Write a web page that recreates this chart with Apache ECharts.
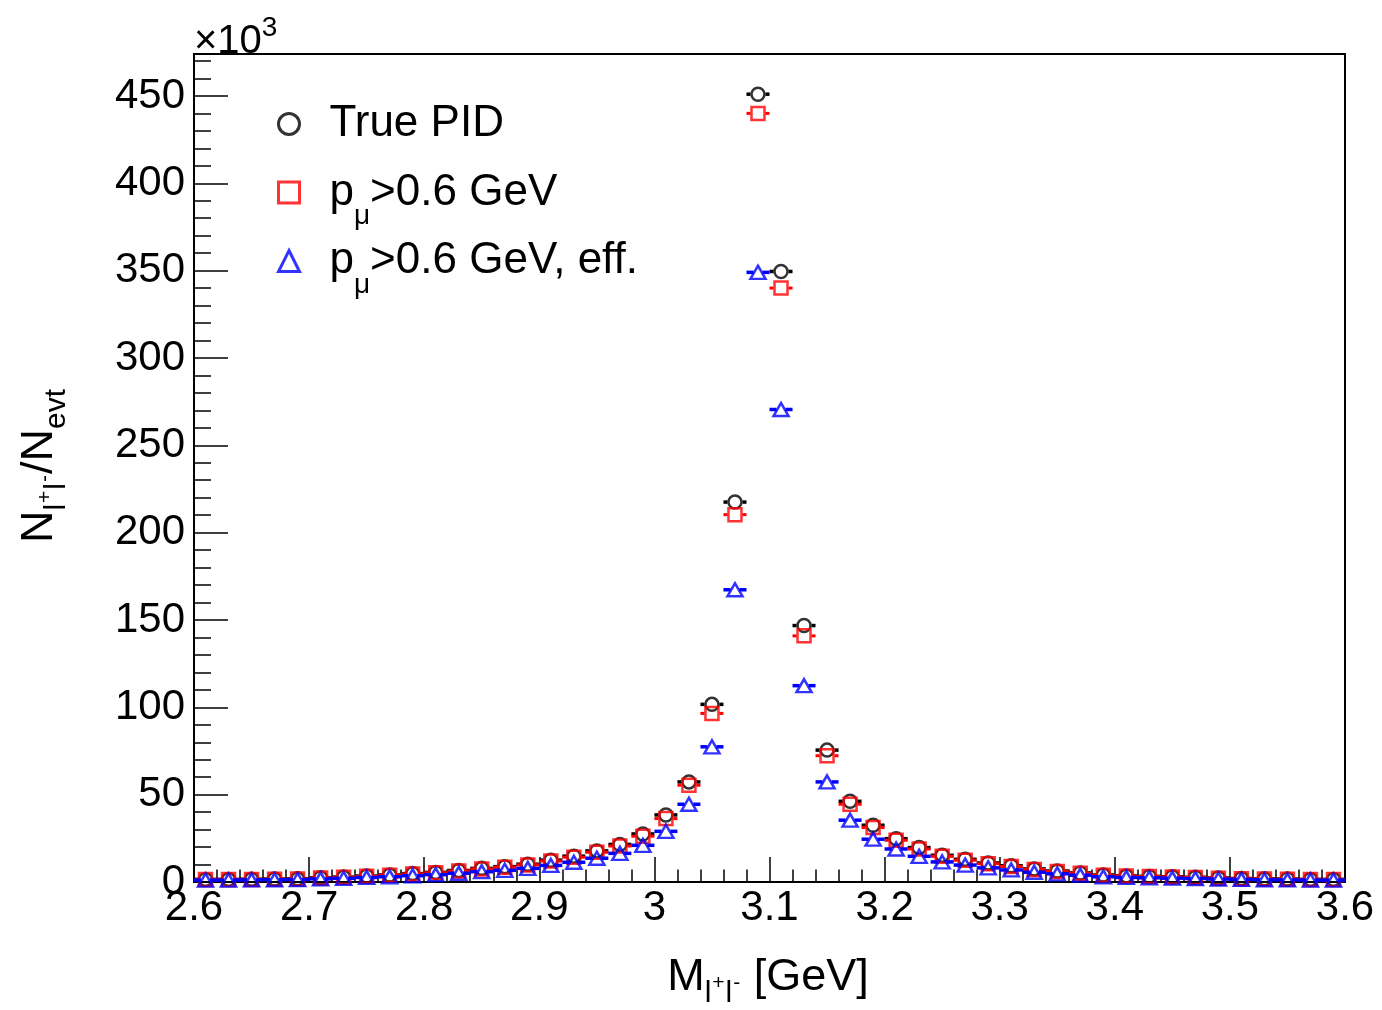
<!DOCTYPE html>
<html><head><meta charset="utf-8">
<script src="https://cdn.jsdelivr.net/npm/echarts@6/dist/echarts.min.js"></script>
<style>html,body{margin:0;padding:0;background:#fff}#c{width:1382px;height:1010px}</style>
</head><body><div id="c"></div>
<script>
// ---- data (values in units of 10^3) ----
const binCenters = [2.61,2.63,2.65,2.67,2.69,2.71,2.73,2.75,2.77,2.79,
                    2.81,2.83,2.85,2.87,2.89,2.91,2.93,2.95,2.97,2.99,
                    3.01,3.03,3.05,3.07,3.09,3.11,3.13,3.15,3.17,3.19,
                    3.21,3.23,3.25,3.27,3.29,3.31,3.33,3.35,3.37,3.39,
                    3.41,3.43,3.45,3.47,3.49,3.51,3.53,3.55,3.57,3.59];
const binWidth = 0.02;
const truePID = [1.5,1.5,1.6,1.7,1.8,2.4,2.8,3.4,4.0,4.8,
                 5.5,6.6,7.8,8.8,10.2,12.5,14.8,17.8,21.5,27.5,
                 38.4,57.3,101.7,217.5,451,349.5,146.8,75.5,46.2,32.5,
                 24.8,19.7,15.3,13.0,10.9,9.3,7.5,6.3,5.2,4.0,
                 3.5,3.2,3.0,2.7,2.3,2.0,1.8,1.7,1.5,1.5];
const pmuCut = [1.4,1.4,1.5,1.6,1.7,2.3,2.7,3.3,3.8,4.6,
                5.3,6.3,7.5,8.5,9.8,12.0,14.2,17.0,20.6,26.2,
                36.3,55.4,96.5,210.3,440,340,140.9,72.3,44.5,31.2,
                23.9,18.9,14.7,12.5,10.5,8.9,7.2,6.0,5.0,3.8,
                3.4,3.1,2.9,2.6,2.2,1.9,1.7,1.6,1.4,1.4];
const pmuCutEff = [1.1,1.1,1.2,1.3,1.4,1.8,2.1,2.6,3.0,3.6,
                   4.2,5.0,5.9,6.7,7.8,9.5,11.3,13.6,16.4,21.0,
                   29.0,44.5,77.4,167.3,349,270.5,112.4,57.3,35.4,24.5,
                   18.9,14.7,11.5,9.7,8.1,6.9,5.6,4.7,3.9,3.0,
                   2.6,2.4,2.2,2.0,1.7,1.5,1.3,1.2,1.1,1.1];
const seriesNames = ['True PID', 'p_mu>0.6 GeV', 'p_mu>0.6 GeV, eff.'];
const yMajorTicks = [0,50,100,150,200,250,300,350,400,450];
const xMin = 2.6, xMax = 3.6, xStep = 0.1;
const yMin = 0, yMax = 474, yStep = 50, yMinorStep = 10;

// ---- chart ----
const FONT = "'Liberation Sans', Arial, Helvetica, sans-serif";
const yMinor = [];
for (let v = yMin; v < yMax; v += yMinorStep) { if (v % yStep !== 0) yMinor.push(v); }

const chart = echarts.init(document.getElementById('c'), null, {renderer: 'canvas'});

function pairs(vals) { return binCenters.map((x, i) => [x, vals[i]]); }

function errSeries(name, vals, color, lw, gap, z) {
  return {
    type: 'custom', name: name, data: pairs(vals), z: z, silent: true, animation: false,
    encode: {x: 0, y: 1},
    renderItem(params, api) {
      const x = api.value(0), y = api.value(1);
      const c = api.coord([x, y]);
      const l = api.coord([x - binWidth / 2, y]);
      const r = api.coord([x + binWidth / 2, y]);
      return {type: 'group', children: [
        {type: 'line', shape: {x1: l[0], y1: c[1], x2: c[0] - gap, y2: c[1]}, style: {stroke: color, lineWidth: lw}},
        {type: 'line', shape: {x1: c[0] + gap, y1: c[1], x2: r[0], y2: c[1]}, style: {stroke: color, lineWidth: lw}}
      ]};
    }
  };
}
function markSeries(name, vals, symbol, size, color, z) {
  return {
    type: 'scatter', name: name, data: pairs(vals), symbol: symbol, symbolSize: size, z: z,
    itemStyle: {color: 'rgba(0,0,0,0)', borderColor: color, borderWidth: 2.5},
    emphasis: {disabled: true}, silent: true, animation: false
  };
}

const legendRich = {
  mu: {fontFamily: FONT, fontSize: 28, color: '#000', lineHeight: 20, padding: [48, 0, 0, 0]},
  t: {fontFamily: FONT, fontSize: 44, color: '#000', lineHeight: 48}
};

const option = {
  backgroundColor: '#fff',
  animation: false,
  grid: {left: 194, right: 37, top: 54, bottom: 128, show: true, borderColor: '#000', borderWidth: 2, backgroundColor: 'rgba(0,0,0,0)'},
  xAxis: {
    type: 'value', min: xMin, max: xMax, interval: xStep,
    axisLine: {show: true, onZero: false, lineStyle: {color: '#000', width: 2}},
    axisTick: {show: true, inside: true, length: 25, lineStyle: {color: '#000', width: 1.5}},
    minorTick: {show: true, splitNumber: 5, length: 12.5, lineStyle: {color: '#000', width: 1.5}},
    axisLabel: {fontFamily: FONT, fontSize: 42, color: '#000', margin: 5, showMinLabel: true, showMaxLabel: true},
    splitLine: {show: false}, minorSplitLine: {show: false}
  },
  yAxis: [
    {
      type: 'value', min: yMin, max: yMax, position: 'left',
      axisLine: {show: true, onZero: false, lineStyle: {color: '#000', width: 2}},
      axisTick: {show: true, inside: true, length: 34, customValues: yMajorTicks, lineStyle: {color: '#000', width: 1.5}},
      axisLabel: {customValues: yMajorTicks, fontFamily: FONT, fontSize: 42, color: '#000', margin: 9},
      splitLine: {show: false}
    },
    {
      type: 'value', min: yMin, max: yMax, position: 'left', offset: 0,
      axisLine: {show: false},
      axisTick: {show: true, inside: true, length: 17, customValues: yMinor, lineStyle: {color: '#000', width: 1.5}},
      axisLabel: {show: false},
      splitLine: {show: false}
    }
  ],
  legend: {
    show: true, orient: 'vertical', left: 277, top: 86, padding: 0, itemGap: -7.5,
    itemWidth: 21, itemHeight: 21, selectedMode: false,
    data: [
      {name: seriesNames[0], icon: 'circle', itemStyle: {color: 'rgba(0,0,0,0)', borderColor: '#000', borderWidth: 3}},
      {name: seriesNames[1], icon: 'rect', itemStyle: {color: 'rgba(0,0,0,0)', borderColor: '#ff0000', borderWidth: 3}},
      {name: seriesNames[2], icon: 'triangle', itemStyle: {color: 'rgba(0,0,0,0)', borderColor: '#0000ff', borderWidth: 3}}
    ],
    formatter: function (name) {
      if (name === seriesNames[0]) return '{t|True PID}{mu| }';
      if (name === seriesNames[1]) return '{t|p}{mu|μ}{t|>0.6 GeV}';
      return '{t|p}{mu|μ}{t|>0.6 GeV, eff.}';
    },
    textStyle: {fontFamily: FONT, fontSize: 44, color: '#000', lineHeight: 48, padding: [0, 0, 0, 25], rich: legendRich}
  },
  graphic: [
    {
      type: 'text', left: 194, top: 14, silent: true,
      style: {
        text: '{a|×10}{s|3}', fill: '#000',
        rich: {
          a: {fontFamily: FONT, fontSize: 40, lineHeight: 44, fill: '#000'},
          s: {fontFamily: FONT, fontSize: 28, lineHeight: 20, padding: [0, 0, 28, 0], fill: '#000'}
        }
      }
    },
    {
      type: 'text', x: 768, y: 978, silent: true,
      style: {
        text: '{m|M}{sub|l}{sup|+}{sub|l}{sup|-}{m| [GeV]}', fill: '#000', align: 'center', verticalAlign: 'middle',
        rich: {
          m: {fontFamily: FONT, fontSize: 45, lineHeight: 46, fill: '#000'},
          sub: {fontFamily: FONT, fontSize: 30, lineHeight: 20, padding: [32, 0, 0, 0], fill: '#000'},
          sup: {fontFamily: FONT, fontSize: 21, lineHeight: 10, padding: [10, 1, 0, 1], fill: '#000'}
        }
      }
    },
    {
      type: 'text', x: 40, y: 466, rotation: Math.PI / 2, silent: true,
      style: {
        text: '{m|N}{sub|l}{sup|+}{sub|l}{sup|-}{m|/N}{sub|evt}', fill: '#000', align: 'center', verticalAlign: 'middle',
        rich: {
          m: {fontFamily: FONT, fontSize: 45, lineHeight: 46, fill: '#000'},
          sub: {fontFamily: FONT, fontSize: 30, lineHeight: 20, padding: [34, 0, 0, 0], fill: '#000'},
          sup: {fontFamily: FONT, fontSize: 21, lineHeight: 10, padding: [10, 1, 0, 1], fill: '#000'}
        }
      }
    }
  ],
  series: [
    errSeries('err0', truePID, '#000', 3.5, 7.5, 2),
    markSeries(seriesNames[0], truePID, 'circle', 13, '#000', 3),
    errSeries('err1', pmuCut, '#ff0000', 3, 7.5, 4),
    markSeries(seriesNames[1], pmuCut, 'rect', 13, '#ff0000', 5),
    errSeries('err2', pmuCutEff, '#0000ff', 3.5, 4.5, 6),
    markSeries(seriesNames[2], pmuCutEff, 'triangle', [15, 13], '#0000ff', 7)
  ]
};
chart.setOption(option);
</script>
</body></html>
